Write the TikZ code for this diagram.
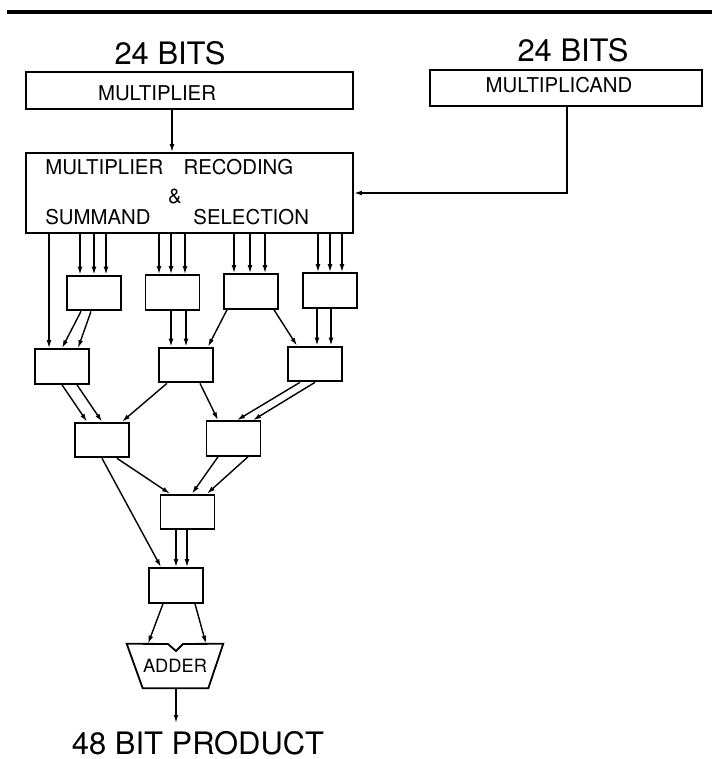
\documentclass[tikz,border=0pt]{standalone}
\usepackage{fontspec}
\setmainfont{TeX Gyre Heros}
\usepackage{tikz}
\usetikzlibrary{arrows.meta, calc}

\newcommand{\bigtxt}{\fontsize{22pt}{24pt}\selectfont}
\newcommand{\boxtxt}{\fontsize{14.5pt}{16pt}\selectfont}

\begin{document}
\begin{tikzpicture}[x=0.025cm, y=-0.025cm,
    box/.style={draw, line width=1.3pt, inner sep=0pt},
    cell/.style={box, minimum width=1.35cm, minimum height=0.87cm},
    lbl/.style={inner sep=0pt, font=\boxtxt},
    arr/.style={line width=1pt, -{Latex[length=2mm, width=1.2mm]}}]
    \useasboundingbox (0,0) rectangle (712,759);
    \draw[line width=2.2pt] (7,12) -- (712,12);

    % inputs
    \node[inner sep=0pt, font=\bigtxt] (bitsa) at (170,53) {24 BITS};
    \node[inner sep=0pt, font=\bigtxt] (bitsb) at (573,50) {24 BITS};
    \node[box, minimum width=8.175cm, minimum height=0.925cm] (mplier) at (189.5,90.5) {};
    \node[lbl] (mplierlbl) at (157,93) {MULTIPLIER};
    \node[box, minimum width=6.8cm, minimum height=0.9cm] (mcand) at (566,88) {};
    \node[lbl] (mcandlbl) at (559,85) {MULTIPLICAND};

    % recoding
    \node[box, minimum width=8.175cm, minimum height=2cm] (rec) at (189.5,193) {};
    \node[lbl, anchor=west] (reclbla) at (45,167) {MULTIPLIER\hspace{1em}RECODING};
    \node[lbl] (reclblb) at (175,196) {\&};
    \node[lbl, anchor=west] (reclblc) at (45,217) {SUMMAND\hspace{2.1em}SELECTION};

    \draw[arr] (mplier.south -| 172,0) -- (rec.north -| 172,0);
    \draw[arr] (mcand.south -| 567,0) |- (rec.east);

    % adder tree
    \node[cell] (a1) at (94,293) {};
    \node[cell] (a2) at (172.5,292.5) {};
    \node[cell] (a3) at (251,291.5) {};
    \node[cell] (a4) at (330,290.5) {};
    \node[cell] (b1) at (62,366.5) {};
    \node[cell] (b2) at (186,365) {};
    \node[cell] (b3) at (315,364) {};
    \node[cell] (c1) at (102,440) {};
    \node[cell] (c2) at (233.5,438.5) {};
    \node[cell] (d1) at (187.5,512) {};
    \node[cell] (e1) at (176,585.5) {};

    \foreach \x in {80,94,106} \draw[arr] (rec.south -| \x,0) -- (a1.north -| \x,0);
    \foreach \x in {159,171,185} \draw[arr] (rec.south -| \x,0) -- (a2.north -| \x,0);
    \foreach \x in {234,250,265} \draw[arr] (rec.south -| \x,0) -- (a3.north -| \x,0);
    \foreach \x in {318,330,342} \draw[arr] (rec.south -| \x,0) -- (a4.north -| \x,0);
    \draw[arr] (rec.south -| 49,0) -- (b1.north -| 49,0);

    \draw[arr] (a1.south -| 81,0) -- (b1.north -| 62,0);
    \draw[arr] (a1.south -| 91,0) -- (b1.north -| 78,0);
    \draw[arr] (a2.south -| 171,0) -- (b2.north -| 171,0);
    \draw[arr] (a2.south -| 186,0) -- (b2.north -| 186,0);
    \draw[arr] (a3.south -| 227,0) -- (b2.north -| 208,0);
    \draw[arr] (a3.south -| 274,0) -- (b3.north -| 297,0);
    \draw[arr] (a4.south -| 317,0) -- (b3.north -| 317,0);
    \draw[arr] (a4.south -| 331,0) -- (b3.north -| 331,0);

    \draw[arr] (b1.south -| 62,0) -- (c1.north -| 87,0);
    \draw[arr] (b1.south -| 77,0) -- (c1.north -| 102,0);
    \draw[arr] (b2.south -| 167,0) -- (c1.north -| 122,0);
    \draw[arr] (b2.south -| 200,0) -- (c2.north -| 218,0);
    \draw[arr] (b3.south -| 300,0) -- (c2.north -| 237,0);
    \draw[arr] (b3.south -| 315,0) -- (c2.north -| 253,0);

    \draw[arr] (c1.south -| 117,0) -- (d1.north -| 170,0);
    \draw[arr] (c1.south -| 102,0) -- (e1.north -| 161,0);
    \draw[arr] (c2.south -| 218,0) -- (d1.north -| 192,0);
    \draw[arr] (c2.south -| 248,0) -- (d1.north -| 207,0);
    \draw[arr] (d1.south -| 176,0) -- (e1.north -| 176,0);
    \draw[arr] (d1.south -| 187,0) -- (e1.north -| 187,0);

    % adder
    \node[inner sep=0pt, minimum width=2.4cm, minimum height=1.1cm, font=\fontsize{13pt}{15pt}\selectfont] (adder) at (175,666) {ADDER};
    \draw[line width=1.3pt] (adder.north west) -- (168,644) -- (176,651) -- (183,644)
        -- (adder.north east) -- ($(adder.south east)+(-15,0)$)
        -- ($(adder.south west)+(16,0)$) -- cycle;
    \draw[arr] (e1.south -| 163,0) -- (adder.north -| 148,0);
    \draw[arr] (e1.south -| 195,0) -- (adder.north -| 206,0);

    \coordinate (out) at (176,723);
    \draw[arr] (adder.south -| 176,0) -- (out);
    \node[inner sep=0pt, font=\bigtxt] (prod) at (198,743) {48 BIT PRODUCT};
\end{tikzpicture}
\end{document}
